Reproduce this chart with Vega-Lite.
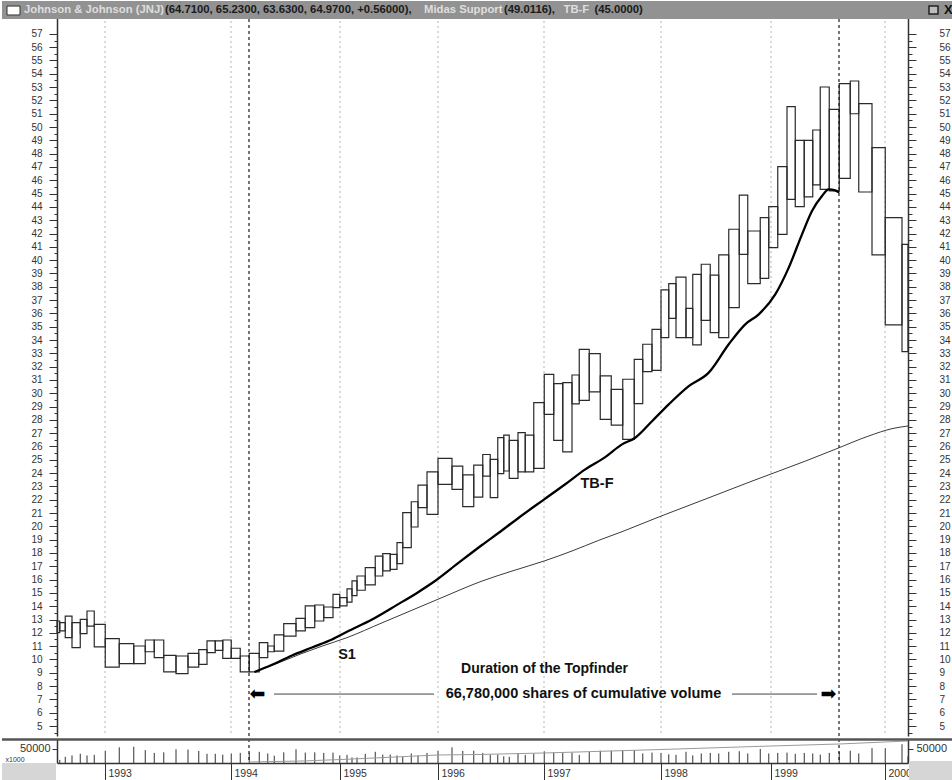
{
  "$schema": "https://vega.github.io/schema/vega-lite/v6.json",
  "padding": 0,
  "background": "white",
  "spacing": 0,
  "config": {"view": {"stroke": null}, "font": "Liberation Sans"},
  "datasets": {
    "bars": [
      {"v0":0,"v1":11,"lo":12.01,"hi":12.89,"vol":11000},
      {"v0":11,"v1":33,"lo":12.14,"hi":12.76,"vol":22000},
      {"v0":33,"v1":60,"lo":11.64,"hi":13.26,"vol":27000},
      {"v0":60,"v1":93,"lo":10.89,"hi":12.76,"vol":33000},
      {"v0":93,"v1":120,"lo":11.94,"hi":13.01,"vol":27000},
      {"v0":120,"v1":149,"lo":12.51,"hi":13.64,"vol":29000},
      {"v0":149,"v1":193,"lo":10.94,"hi":12.64,"vol":44000},
      {"v0":193,"v1":249,"lo":9.43,"hi":11.56,"vol":56000},
      {"v0":249,"v1":307,"lo":9.68,"hi":11.19,"vol":58000},
      {"v0":307,"v1":353,"lo":9.68,"hi":11.01,"vol":46000},
      {"v0":353,"v1":389,"lo":10.58,"hi":11.46,"vol":36000},
      {"v0":389,"v1":427,"lo":10.13,"hi":11.46,"vol":38000},
      {"v0":427,"v1":476,"lo":9.06,"hi":10.31,"vol":49000},
      {"v0":476,"v1":524,"lo":8.93,"hi":10.26,"vol":48000},
      {"v0":524,"v1":567,"lo":9.43,"hi":10.46,"vol":43000},
      {"v0":567,"v1":600,"lo":9.63,"hi":10.74,"vol":33000},
      {"v0":600,"v1":633,"lo":10.51,"hi":11.39,"vol":33000},
      {"v0":633,"v1":663,"lo":10.68,"hi":11.39,"vol":30000},
      {"v0":663,"v1":697,"lo":10.08,"hi":11.46,"vol":34000},
      {"v0":697,"v1":733,"lo":10.08,"hi":10.84,"vol":36000},
      {"v0":733,"v1":769,"lo":9.06,"hi":10.26,"vol":36000},
      {"v0":769,"v1":809,"lo":9.06,"hi":10.46,"vol":40000},
      {"v0":809,"v1":843,"lo":10.13,"hi":11.26,"vol":34000},
      {"v0":843,"v1":869,"lo":10.58,"hi":11.01,"vol":26000},
      {"v0":869,"v1":907,"lo":10.63,"hi":11.84,"vol":38000},
      {"v0":907,"v1":956,"lo":11.76,"hi":12.69,"vol":49000},
      {"v0":956,"v1":993,"lo":12.14,"hi":13.09,"vol":37000},
      {"v0":993,"v1":1031,"lo":12.39,"hi":14.02,"vol":38000},
      {"v0":1031,"v1":1067,"lo":12.89,"hi":14.09,"vol":36000},
      {"v0":1067,"v1":1104,"lo":13.15,"hi":13.94,"vol":37000},
      {"v0":1104,"v1":1131,"lo":13.89,"hi":14.89,"vol":27000},
      {"v0":1131,"v1":1160,"lo":14.02,"hi":14.64,"vol":29000},
      {"v0":1160,"v1":1180,"lo":14.3,"hi":15.3,"vol":20000},
      {"v0":1180,"v1":1200,"lo":14.8,"hi":15.9,"vol":20000},
      {"v0":1200,"v1":1233,"lo":15.2,"hi":16.27,"vol":33000},
      {"v0":1233,"v1":1273,"lo":15.6,"hi":16.9,"vol":40000},
      {"v0":1273,"v1":1303,"lo":16.27,"hi":17.77,"vol":30000},
      {"v0":1303,"v1":1333,"lo":16.65,"hi":17.95,"vol":30000},
      {"v0":1333,"v1":1360,"lo":16.77,"hi":17.9,"vol":27000},
      {"v0":1360,"v1":1383,"lo":17.2,"hi":18.77,"vol":23000},
      {"v0":1383,"v1":1417,"lo":18.4,"hi":21.03,"vol":34000},
      {"v0":1417,"v1":1444,"lo":19.95,"hi":21.85,"vol":27000},
      {"v0":1444,"v1":1480,"lo":21.4,"hi":23.1,"vol":36000},
      {"v0":1480,"v1":1524,"lo":20.9,"hi":24.1,"vol":44000},
      {"v0":1524,"v1":1580,"lo":23.16,"hi":25.1,"vol":56000},
      {"v0":1580,"v1":1623,"lo":22.78,"hi":24.53,"vol":43000},
      {"v0":1623,"v1":1667,"lo":21.48,"hi":23.86,"vol":44000},
      {"v0":1667,"v1":1703,"lo":22.2,"hi":24.6,"vol":36000},
      {"v0":1703,"v1":1733,"lo":23.78,"hi":25.4,"vol":30000},
      {"v0":1733,"v1":1763,"lo":22.16,"hi":25.03,"vol":30000},
      {"v0":1763,"v1":1787,"lo":23.96,"hi":26.66,"vol":24000},
      {"v0":1787,"v1":1809,"lo":24.16,"hi":26.86,"vol":22000},
      {"v0":1809,"v1":1844,"lo":23.6,"hi":26.46,"vol":35000},
      {"v0":1844,"v1":1873,"lo":24.1,"hi":27.04,"vol":29000},
      {"v0":1873,"v1":1907,"lo":24.1,"hi":26.86,"vol":34000},
      {"v0":1907,"v1":1949,"lo":24.36,"hi":29.29,"vol":42000},
      {"v0":1949,"v1":1987,"lo":28.42,"hi":31.42,"vol":38000},
      {"v0":1987,"v1":2023,"lo":26.46,"hi":30.72,"vol":36000},
      {"v0":2023,"v1":2060,"lo":25.6,"hi":30.8,"vol":37000},
      {"v0":2060,"v1":2089,"lo":29.2,"hi":31.37,"vol":29000},
      {"v0":2089,"v1":2129,"lo":29.47,"hi":33.3,"vol":40000},
      {"v0":2129,"v1":2173,"lo":30.1,"hi":32.97,"vol":44000},
      {"v0":2173,"v1":2217,"lo":28.04,"hi":31.3,"vol":44000},
      {"v0":2217,"v1":2263,"lo":27.6,"hi":30.29,"vol":46000},
      {"v0":2263,"v1":2309,"lo":26.54,"hi":31.05,"vol":46000},
      {"v0":2309,"v1":2343,"lo":29.22,"hi":32.55,"vol":34000},
      {"v0":2343,"v1":2380,"lo":31.62,"hi":33.68,"vol":37000},
      {"v0":2380,"v1":2416,"lo":31.72,"hi":34.8,"vol":36000},
      {"v0":2416,"v1":2447,"lo":34.18,"hi":37.76,"vol":31000},
      {"v0":2447,"v1":2476,"lo":35.63,"hi":38.23,"vol":29000},
      {"v0":2476,"v1":2516,"lo":34.18,"hi":38.73,"vol":40000},
      {"v0":2516,"v1":2543,"lo":34.18,"hi":36.38,"vol":27000},
      {"v0":2543,"v1":2577,"lo":33.63,"hi":38.93,"vol":34000},
      {"v0":2577,"v1":2613,"lo":35.48,"hi":39.69,"vol":36000},
      {"v0":2613,"v1":2647,"lo":34.55,"hi":38.88,"vol":34000},
      {"v0":2647,"v1":2687,"lo":34.18,"hi":40.39,"vol":40000},
      {"v0":2687,"v1":2729,"lo":36.43,"hi":42.32,"vol":42000},
      {"v0":2729,"v1":2763,"lo":40.44,"hi":44.89,"vol":34000},
      {"v0":2763,"v1":2813,"lo":38.23,"hi":42.19,"vol":50000},
      {"v0":2813,"v1":2847,"lo":38.63,"hi":43.19,"vol":34000},
      {"v0":2847,"v1":2883,"lo":40.94,"hi":44.02,"vol":36000},
      {"v0":2883,"v1":2920,"lo":41.94,"hi":47.02,"vol":37000},
      {"v0":2920,"v1":2953,"lo":44.57,"hi":51.53,"vol":33000},
      {"v0":2953,"v1":2989,"lo":44.02,"hi":49.0,"vol":36000},
      {"v0":2989,"v1":3023,"lo":44.75,"hi":49.0,"vol":34000},
      {"v0":3023,"v1":3053,"lo":45.65,"hi":49.78,"vol":30000},
      {"v0":3053,"v1":3089,"lo":45.32,"hi":53.01,"vol":36000},
      {"v0":3089,"v1":3129,"lo":45.2,"hi":51.33,"vol":40000},
      {"v0":3129,"v1":3173,"lo":46.15,"hi":53.26,"vol":44000},
      {"v0":3173,"v1":3207,"lo":51.0,"hi":53.46,"vol":34000},
      {"v0":3207,"v1":3260,"lo":45.12,"hi":51.76,"vol":53000},
      {"v0":3260,"v1":3313,"lo":40.39,"hi":48.45,"vol":53000},
      {"v0":3313,"v1":3380,"lo":35.13,"hi":43.19,"vol":67000},
      {"v0":3380,"v1":3404,"lo":33.12,"hi":41.19,"vol":24000}
    ],
    "tbf": [
      {"cv":790,"p":9.06},{"cv":860,"p":9.6},{"cv":940,"p":10.3},{"cv":1020,"p":10.9},
      {"cv":1100,"p":11.5},{"cv":1160,"p":12.08},{"cv":1260,"p":13.0},{"cv":1360,"p":14.1},
      {"cv":1440,"p":15.0},{"cv":1512,"p":15.89},{"cv":1607,"p":17.27},{"cv":1700,"p":18.6},
      {"cv":1767,"p":19.52},{"cv":1847,"p":20.65},{"cv":1949,"p":22.03},{"cv":2033,"p":23.16},
      {"cv":2113,"p":24.28},{"cv":2193,"p":25.2},{"cv":2260,"p":26.16},{"cv":2313,"p":26.66},
      {"cv":2380,"p":27.9},{"cv":2447,"p":29.17},{"cv":2527,"p":30.54},{"cv":2607,"p":31.55},
      {"cv":2687,"p":33.68},{"cv":2753,"p":35.18},{"cv":2807,"p":35.93},{"cv":2873,"p":37.43},
      {"cv":2927,"p":39.44},{"cv":2980,"p":41.94},{"cv":3020,"p":43.69},{"cv":3060,"p":44.82},
      {"cv":3087,"p":45.32},{"cv":3113,"p":45.25},{"cv":3129,"p":45.07}
    ],
    "midas": [
      {"cv":790,"p":9.06},{"cv":860,"p":9.55},{"cv":980,"p":10.45},{"cv":1060,"p":11.0},
      {"cv":1160,"p":11.64},{"cv":1300,"p":12.75},{"cv":1420,"p":13.7},{"cv":1540,"p":14.65},
      {"cv":1700,"p":15.89},{"cv":1820,"p":16.64},{"cv":1949,"p":17.4},{"cv":2060,"p":18.15},
      {"cv":2167,"p":18.95},{"cv":2260,"p":19.6},{"cv":2420,"p":20.8},{"cv":2580,"p":21.95},
      {"cv":2780,"p":23.4},{"cv":2993,"p":24.9},{"cv":3113,"p":25.79},{"cv":3247,"p":26.79},
      {"cv":3340,"p":27.34},{"cv":3404,"p":27.54}
    ],
    "volline": [
      {"cv":768,"v":3570},{"cv":980,"v":7140},{"cv":1140,"v":12500},{"cv":1524,"v":28570},
      {"cv":1684,"v":30350},{"cv":1948,"v":35700},{"cv":2416,"v":48200},{"cv":2856,"v":60700},
      {"cv":3128,"v":67800},{"cv":3404,"v":78600}
    ],
    "years": [
      {"cv":192,"year":"1993"},{"cv":696,"year":"1994"},{"cv":1132,"year":"1995"},{"cv":1524,"year":"1996"},
      {"cv":1948,"year":"1997"},{"cv":2416,"year":"1998"},{"cv":2856,"year":"1999"},{"cv":3312,"year":"2000"}
    ],
    "topfinder": [{"cv":768},{"cv":3128}],
    "one": [{}]
  },
  "vconcat": [
    {
      "width": 851,
      "height": 735,
      "resolve": {"axis": {"x": "independent", "y": "independent"}},
      "layer": [
        {
          "data": {"name": "years"},
          "mark": {"type": "rule", "color": "#b4b4b4", "strokeWidth": 1, "strokeDash": [2, 3]},
          "encoding": {
            "x": {"field": "cv", "type": "quantitative", "scale": {"domain": [0, 3404], "nice": false, "zero": false}, "axis": null}
          }
        },
        {
          "data": {"name": "bars"},
          "mark": {"type": "rect", "fill": "#ffffff", "fillOpacity": 0, "stroke": "#2a2a2a", "strokeWidth": 1.2},
          "encoding": {
            "x": {"field": "v0", "type": "quantitative", "scale": {"domain": [0, 3404], "nice": false, "zero": false}, "axis": null},
            "x2": {"field": "v1"},
            "y": {"field": "lo", "type": "quantitative", "scale": {"domain": [4.249, 59.47], "nice": false, "zero": false},
              "axis": {"orient": "left", "values": [4.5,5,5.5,6,6.5,7,7.5,8,8.5,9,9.5,10,10.5,11,11.5,12,12.5,13,13.5,14,14.5,15,15.5,16,16.5,17,17.5,18,18.5,19,19.5,20,20.5,21,21.5,22,22.5,23,23.5,24,24.5,25,25.5,26,26.5,27,27.5,28,28.5,29,29.5,30,30.5,31,31.5,32,32.5,33,33.5,34,34.5,35,35.5,36,36.5,37,37.5,38,38.5,39,39.5,40,40.5,41,41.5,42,42.5,43,43.5,44,44.5,45,45.5,46,46.5,47,47.5,48,48.5,49,49.5,50,50.5,51,51.5,52,52.5,53,53.5,54,54.5,55,55.5,56,56.5,57],
                "labelExpr": "datum.value % 1 === 0 ? '' + datum.value : ''",
                "tickSize": {"condition": {"test": "datum.value % 1 === 0", "value": 8}, "value": 3},
                "labelPadding": 7, "labelFontSize": 10, "labelColor": "#333333", "tickColor": "#333333",
                "domainColor": "#333333", "domainWidth": 1.5, "grid": false, "title": null, "labelOverlap": false, "labelBound": false}},
            "y2": {"field": "hi"}
          }
        },
        {
          "data": {"name": "topfinder"},
          "mark": {"type": "rule", "color": "#1a1a1a", "strokeWidth": 1.2, "strokeDash": [3, 3]},
          "encoding": {
            "x": {"field": "cv", "type": "quantitative", "scale": {"domain": [0, 3404], "nice": false, "zero": false}, "axis": null}
          }
        },
        {
          "data": {"name": "midas"},
          "mark": {"type": "line", "color": "#3a3a3a", "strokeWidth": 1, "interpolate": "monotone"},
          "encoding": {
            "x": {"field": "cv", "type": "quantitative", "scale": {"domain": [0, 3404], "nice": false, "zero": false}, "axis": null},
            "y": {"field": "p", "type": "quantitative", "scale": {"domain": [4.249, 59.47], "nice": false, "zero": false}, "axis": null}
          }
        },
        {
          "data": {"name": "tbf"},
          "mark": {"type": "line", "color": "#000000", "strokeWidth": 2.3, "interpolate": "monotone"},
          "encoding": {
            "x": {"field": "cv", "type": "quantitative", "scale": {"domain": [0, 3404], "nice": false, "zero": false}, "axis": null},
            "y": {"field": "p", "type": "quantitative", "scale": {"domain": [4.249, 59.47], "nice": false, "zero": false},
              "axis": {"orient": "right", "values": [4.5,5,5.5,6,6.5,7,7.5,8,8.5,9,9.5,10,10.5,11,11.5,12,12.5,13,13.5,14,14.5,15,15.5,16,16.5,17,17.5,18,18.5,19,19.5,20,20.5,21,21.5,22,22.5,23,23.5,24,24.5,25,25.5,26,26.5,27,27.5,28,28.5,29,29.5,30,30.5,31,31.5,32,32.5,33,33.5,34,34.5,35,35.5,36,36.5,37,37.5,38,38.5,39,39.5,40,40.5,41,41.5,42,42.5,43,43.5,44,44.5,45,45.5,46,46.5,47,47.5,48,48.5,49,49.5,50,50.5,51,51.5,52,52.5,53,53.5,54,54.5,55,55.5,56,56.5,57],
                "labelExpr": "datum.value % 1 === 0 ? '' + datum.value : ''",
                "tickSize": {"condition": {"test": "datum.value % 1 === 0", "value": 8}, "value": 4},
                "labelPadding": 23, "labelFontSize": 10, "labelColor": "#333333", "tickColor": "#333333",
                "domainColor": "#333333", "domainWidth": 1.5, "grid": false, "title": null, "labelOverlap": false, "labelBound": false}}
          }
        },
        {
          "data": {"name": "one"},
          "mark": {"type": "rule", "color": "#444444", "strokeWidth": 1},
          "encoding": {
            "x": {"datum": 868, "type": "quantitative", "scale": {"domain": [0, 3404], "nice": false, "zero": false}, "axis": null},
            "x2": {"datum": 1508},
            "y": {"datum": 7.4, "type": "quantitative", "scale": {"domain": [4.249, 59.47], "nice": false, "zero": false}, "axis": null}
          }
        },
        {
          "data": {"name": "one"},
          "mark": {"type": "rule", "color": "#444444", "strokeWidth": 1},
          "encoding": {
            "x": {"datum": 2700, "type": "quantitative", "scale": {"domain": [0, 3404], "nice": false, "zero": false}, "axis": null},
            "x2": {"datum": 3040},
            "y": {"datum": 7.4, "type": "quantitative", "scale": {"domain": [4.249, 59.47], "nice": false, "zero": false}, "axis": null}
          }
        },
        {
          "data": {"name": "one"},
          "mark": {"type": "text", "text": "⬅", "font": "DejaVu Sans", "fontSize": 19, "color": "#000000", "baseline": "middle", "align": "center"},
          "encoding": {
            "x": {"datum": 802, "type": "quantitative", "scale": {"domain": [0, 3404], "nice": false, "zero": false}, "axis": null},
            "y": {"datum": 7.4, "type": "quantitative", "scale": {"domain": [4.249, 59.47], "nice": false, "zero": false}, "axis": null}
          }
        },
        {
          "data": {"name": "one"},
          "mark": {"type": "text", "text": "➡", "font": "DejaVu Sans", "fontSize": 19, "color": "#000000", "baseline": "middle", "align": "center"},
          "encoding": {
            "x": {"datum": 3086, "type": "quantitative", "scale": {"domain": [0, 3404], "nice": false, "zero": false}, "axis": null},
            "y": {"datum": 7.4, "type": "quantitative", "scale": {"domain": [4.249, 59.47], "nice": false, "zero": false}, "axis": null}
          }
        },
        {
          "data": {"name": "one"},
          "mark": {"type": "text", "text": "Duration of the Topfinder", "fontSize": 14, "fontWeight": "bold", "color": "#111111", "baseline": "middle", "align": "center"},
          "encoding": {
            "x": {"datum": 1950, "type": "quantitative", "scale": {"domain": [0, 3404], "nice": false, "zero": false}, "axis": null},
            "y": {"datum": 9.28, "type": "quantitative", "scale": {"domain": [4.249, 59.47], "nice": false, "zero": false}, "axis": null}
          }
        },
        {
          "data": {"name": "one"},
          "mark": {"type": "text", "text": "66,780,000 shares of cumulative volume", "fontSize": 14.5, "fontWeight": "bold", "color": "#111111", "baseline": "middle", "align": "center"},
          "encoding": {
            "x": {"datum": 2106, "type": "quantitative", "scale": {"domain": [0, 3404], "nice": false, "zero": false}, "axis": null},
            "y": {"datum": 7.4, "type": "quantitative", "scale": {"domain": [4.249, 59.47], "nice": false, "zero": false}, "axis": null}
          }
        },
        {
          "data": {"name": "one"},
          "mark": {"type": "text", "text": "TB-F", "fontSize": 14.5, "fontWeight": "bold", "color": "#111111", "baseline": "middle", "align": "center"},
          "encoding": {
            "x": {"datum": 2160, "type": "quantitative", "scale": {"domain": [0, 3404], "nice": false, "zero": false}, "axis": null},
            "y": {"datum": 23.18, "type": "quantitative", "scale": {"domain": [4.249, 59.47], "nice": false, "zero": false}, "axis": null}
          }
        },
        {
          "data": {"name": "one"},
          "mark": {"type": "text", "text": "S1", "fontSize": 14.5, "fontWeight": "bold", "color": "#111111", "baseline": "middle", "align": "center"},
          "encoding": {
            "x": {"datum": 1160, "type": "quantitative", "scale": {"domain": [0, 3404], "nice": false, "zero": false}, "axis": null},
            "y": {"datum": 10.33, "type": "quantitative", "scale": {"domain": [4.249, 59.47], "nice": false, "zero": false}, "axis": null}
          }
        },
        {
          "data": {"name": "one"},
          "mark": {"type": "rect", "color": "#929292"},
          "encoding": {
            "x": {"datum": -220, "type": "quantitative", "scale": {"domain": [0, 3404], "nice": false, "zero": false}, "axis": null},
            "x2": {"datum": 3588},
            "y": {"datum": 58.12, "type": "quantitative", "scale": {"domain": [4.249, 59.47], "nice": false, "zero": false}, "axis": null},
            "y2": {"datum": 59.47}
          }
        },
        {
          "data": {"name": "one"},
          "mark": {"type": "rect", "fill": "#ffffff", "stroke": "#333333", "strokeWidth": 1},
          "encoding": {
            "x": {"datum": -200, "type": "quantitative", "scale": {"domain": [0, 3404], "nice": false, "zero": false}, "axis": null},
            "x2": {"datum": -148},
            "y": {"datum": 58.42, "type": "quantitative", "scale": {"domain": [4.249, 59.47], "nice": false, "zero": false}, "axis": null},
            "y2": {"datum": 59.09}
          }
        },
        {
          "data": {"name": "one"},
          "mark": {"type": "rect", "fill": "#bdbdbd", "stroke": "#222222", "strokeWidth": 1.5},
          "encoding": {
            "x": {"datum": 3488, "type": "quantitative", "scale": {"domain": [0, 3404], "nice": false, "zero": false}, "axis": null},
            "x2": {"datum": 3524},
            "y": {"datum": 58.49, "type": "quantitative", "scale": {"domain": [4.249, 59.47], "nice": false, "zero": false}, "axis": null},
            "y2": {"datum": 59.09}
          }
        },
        {
          "data": {"name": "one"},
          "mark": {"type": "text", "text": "X", "fontSize": 13, "fontWeight": "bold", "color": "#111111", "baseline": "middle", "align": "center"},
          "encoding": {
            "x": {"datum": 3565, "type": "quantitative", "scale": {"domain": [0, 3404], "nice": false, "zero": false}, "axis": null},
            "y": {"datum": 58.79, "type": "quantitative", "scale": {"domain": [4.249, 59.47], "nice": false, "zero": false}, "axis": null}
          }
        },
        {
          "data": {"name": "one"},
          "mark": {"type": "text", "text": "Johnson & Johnson (JNJ)", "fontSize": 11.3, "fontWeight": "bold", "color": "#dedede", "baseline": "middle", "align": "left"},
          "encoding": {
            "x": {"datum": -132, "type": "quantitative", "scale": {"domain": [0, 3404], "nice": false, "zero": false}, "axis": null},
            "y": {"datum": 58.79, "type": "quantitative", "scale": {"domain": [4.249, 59.47], "nice": false, "zero": false}, "axis": null}
          }
        },
        {
          "data": {"name": "one"},
          "mark": {"type": "text", "text": "(64.7100, 65.2300, 63.6300, 64.9700, +0.56000),", "fontSize": 11.3, "fontWeight": "bold", "color": "#1a1a1a", "baseline": "middle", "align": "left"},
          "encoding": {
            "x": {"datum": 432, "type": "quantitative", "scale": {"domain": [0, 3404], "nice": false, "zero": false}, "axis": null},
            "y": {"datum": 58.79, "type": "quantitative", "scale": {"domain": [4.249, 59.47], "nice": false, "zero": false}, "axis": null}
          }
        },
        {
          "data": {"name": "one"},
          "mark": {"type": "text", "text": "Midas Support", "fontSize": 11.3, "fontWeight": "bold", "color": "#dedede", "baseline": "middle", "align": "left"},
          "encoding": {
            "x": {"datum": 1468, "type": "quantitative", "scale": {"domain": [0, 3404], "nice": false, "zero": false}, "axis": null},
            "y": {"datum": 58.79, "type": "quantitative", "scale": {"domain": [4.249, 59.47], "nice": false, "zero": false}, "axis": null}
          }
        },
        {
          "data": {"name": "one"},
          "mark": {"type": "text", "text": "(49.0116),", "fontSize": 11.3, "fontWeight": "bold", "color": "#1a1a1a", "baseline": "middle", "align": "left"},
          "encoding": {
            "x": {"datum": 1788, "type": "quantitative", "scale": {"domain": [0, 3404], "nice": false, "zero": false}, "axis": null},
            "y": {"datum": 58.79, "type": "quantitative", "scale": {"domain": [4.249, 59.47], "nice": false, "zero": false}, "axis": null}
          }
        },
        {
          "data": {"name": "one"},
          "mark": {"type": "text", "text": "TB-F", "fontSize": 11.3, "fontWeight": "bold", "color": "#dedede", "baseline": "middle", "align": "left"},
          "encoding": {
            "x": {"datum": 2026, "type": "quantitative", "scale": {"domain": [0, 3404], "nice": false, "zero": false}, "axis": null},
            "y": {"datum": 58.79, "type": "quantitative", "scale": {"domain": [4.249, 59.47], "nice": false, "zero": false}, "axis": null}
          }
        },
        {
          "data": {"name": "one"},
          "mark": {"type": "text", "text": "(45.0000)", "fontSize": 11.3, "fontWeight": "bold", "color": "#1a1a1a", "baseline": "middle", "align": "left"},
          "encoding": {
            "x": {"datum": 2150, "type": "quantitative", "scale": {"domain": [0, 3404], "nice": false, "zero": false}, "axis": null},
            "y": {"datum": 58.79, "type": "quantitative", "scale": {"domain": [4.249, 59.47], "nice": false, "zero": false}, "axis": null}
          }
        }
      ]
    },
    {
      "width": 851,
      "height": 24,
      "resolve": {"axis": {"x": "independent", "y": "independent"}},
      "layer": [
        {
          "data": {"name": "bars"},
          "mark": {"type": "rule", "color": "#333333", "strokeWidth": 1},
          "encoding": {
            "x": {"field": "v1", "type": "quantitative", "scale": {"domain": [0, 3404], "nice": false, "zero": false},
              "axis": {"orient": "bottom", "values": [192, 696, 1132, 1524, 1948, 2416, 2856, 3312],
                "labelExpr": "datum.value < 400 ? '1993' : datum.value < 900 ? '1994' : datum.value < 1300 ? '1995' : datum.value < 1700 ? '1996' : datum.value < 2200 ? '1997' : datum.value < 2600 ? '1998' : datum.value < 3000 ? '1999' : '2000'",
                "tickSize": 19, "labelPadding": -14, "labelAlign": "left", "labelBaseline": "top", "labelOffset": 3,
                "labelFontSize": 10.5, "labelColor": "#333333", "tickColor": "#333333", "domainColor": "#333333", "domainWidth": 1.3,
                "grid": false, "title": null, "labelFlush": false, "labelOverlap": false, "labelBound": false}},
            "y": {"field": "vol", "type": "quantitative", "scale": {"domain": [0, 85700], "nice": false, "zero": false},
              "axis": {"orient": "left", "values": [50000], "format": "d", "tickSize": 5, "labelPadding": 2, "labelFontSize": 11,
                "labelColor": "#333333", "tickColor": "#333333", "domainColor": "#333333", "domainWidth": 1.5, "grid": false,
                "title": "x1000", "titleAngle": 0, "titleFontSize": 7, "titleFontWeight": "normal", "titleColor": "#333333",
                "titleX": -52, "titleY": 20, "titleAlign": "left", "titleBaseline": "middle"}},
            "y2": {"datum": 0}
          }
        },
        {
          "data": {"name": "volline"},
          "mark": {"type": "line", "color": "#9a9a9a", "strokeWidth": 1},
          "encoding": {
            "x": {"field": "cv", "type": "quantitative", "scale": {"domain": [0, 3404], "nice": false, "zero": false}, "axis": null},
            "y": {"field": "v", "type": "quantitative", "scale": {"domain": [0, 85700], "nice": false, "zero": false},
              "axis": {"orient": "right", "values": [50000], "format": "d", "tickSize": 5, "labelPadding": 3, "labelFontSize": 11,
                "labelColor": "#333333", "tickColor": "#333333", "domainColor": "#333333", "domainWidth": 1.5, "grid": false, "title": null}}
          }
        },
        {
          "data": {"name": "topfinder"},
          "mark": {"type": "rule", "color": "#1a1a1a", "strokeWidth": 1.2, "strokeDash": [3, 3]},
          "encoding": {
            "x": {"field": "cv", "type": "quantitative", "scale": {"domain": [0, 3404], "nice": false, "zero": false}, "axis": null}
          }
        },
        {
          "data": {"name": "one"},
          "mark": {"type": "rect", "color": "#d6d6d6"},
          "encoding": {
            "x": {"datum": -220, "type": "quantitative", "scale": {"domain": [0, 3404], "nice": false, "zero": false}, "axis": null},
            "x2": {"datum": -4},
            "y": {"datum": -75000, "type": "quantitative", "scale": {"domain": [0, 85700], "nice": false, "zero": false}, "axis": null},
            "y2": {"datum": 0}
          }
        },
        {
          "data": {"name": "one"},
          "mark": {"type": "rect", "color": "#d6d6d6"},
          "encoding": {
            "x": {"datum": 3408, "type": "quantitative", "scale": {"domain": [0, 3404], "nice": false, "zero": false}, "axis": null},
            "x2": {"datum": 3588},
            "y": {"datum": -75000, "type": "quantitative", "scale": {"domain": [0, 85700], "nice": false, "zero": false}, "axis": null},
            "y2": {"datum": 7000}
          }
        },
        {
          "data": {"name": "one"},
          "mark": {"type": "rule", "color": "#555555", "strokeWidth": 2.5},
          "encoding": {
            "x": {"datum": -220, "type": "quantitative", "scale": {"domain": [0, 3404], "nice": false, "zero": false}, "axis": null},
            "x2": {"datum": 3588},
            "y": {"datum": 84000, "type": "quantitative", "scale": {"domain": [0, 85700], "nice": false, "zero": false}, "axis": null}
          }
        }
      ]
    }
  ]
}
